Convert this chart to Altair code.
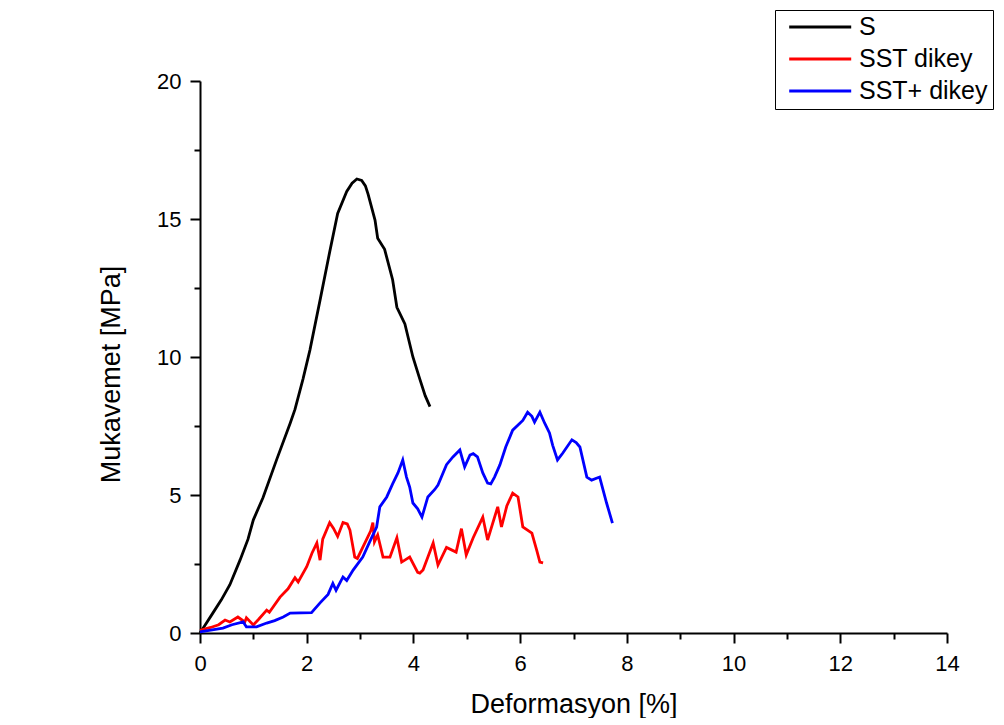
import altair as alt
import pandas as pd

series_names = ["S", "SST dikey", "SST+ dikey"]
series_colors = ["#000000", "#ff0000", "#0000ff"]

s_x = [0, 0.1, 0.24, 0.4, 0.56, 0.75, 0.9, 1.0, 1.18, 1.44, 1.69, 1.78, 1.93, 2.06, 2.25,
       2.43, 2.58, 2.75, 2.85, 2.94, 3.03, 3.1, 3.15, 3.28, 3.33, 3.46, 3.61, 3.69, 3.84,
       3.99, 4.12, 4.22, 4.31]
s_y = [0, 0.3, 0.72, 1.2, 1.75, 2.64, 3.4, 4.1, 4.9, 6.3, 7.6, 8.1, 9.2, 10.25, 12.06,
       13.8, 15.2, 16.0, 16.3, 16.45, 16.4, 16.2, 15.9, 14.96, 14.3, 13.9, 12.8, 11.8, 11.2,
       10.0, 9.2, 8.6, 8.2]

sst_x = [0, 0.2, 0.35, 0.47, 0.56, 0.71, 0.84, 0.87, 1.0, 1.1, 1.25, 1.3, 1.5, 1.65, 1.78,
         1.84, 2.0, 2.1, 2.19, 2.25, 2.3, 2.43, 2.5, 2.58, 2.68, 2.76, 2.81, 2.9, 2.95, 3.05,
         3.15, 3.2, 3.24, 3.27, 3.33, 3.43, 3.56, 3.69, 3.78, 3.93, 4.08, 4.12, 4.18, 4.37,
         4.46, 4.62, 4.8, 4.9, 4.99, 5.12, 5.3, 5.39, 5.58, 5.65, 5.75, 5.86, 5.96, 6.05,
         6.22, 6.31, 6.37, 6.43]
sst_y = [0.1, 0.2, 0.3, 0.47, 0.4, 0.58, 0.4, 0.55, 0.29, 0.5, 0.83, 0.75, 1.3, 1.6, 2.0,
         1.85, 2.4, 2.9, 3.26, 2.64, 3.4, 4.0, 3.8, 3.5, 4.0, 3.95, 3.73, 2.75, 2.7, 3.1,
         3.5, 3.7, 4.0, 3.3, 3.55, 2.75, 2.75, 3.45, 2.57, 2.75, 2.2, 2.17, 2.28, 3.26,
         2.46, 3.1, 2.93, 3.78, 2.83, 3.45, 4.2, 3.37, 4.57, 3.84, 4.6, 5.07, 4.93, 3.84,
         3.62, 3.0, 2.57, 2.54]

sstp_x = [0, 0.2, 0.43, 0.6, 0.81, 0.87, 1.06, 1.25, 1.4, 1.56, 1.69, 2.09, 2.25, 2.4,
          2.49, 2.55, 2.68, 2.75, 2.87, 3.05, 3.18, 3.31, 3.37, 3.5, 3.61, 3.71, 3.8, 3.87,
          3.93, 3.99, 4.08, 4.16, 4.27, 4.4, 4.46, 4.62, 4.74, 4.87, 4.96, 5.06, 5.12, 5.2,
          5.3, 5.39, 5.45, 5.52, 5.62, 5.73, 5.86, 6.05, 6.14, 6.22, 6.27, 6.37, 6.46, 6.55,
          6.61, 6.7, 6.8, 6.97, 7.05, 7.12, 7.25, 7.34, 7.49, 7.62, 7.73]
sstp_y = [0.04, 0.1, 0.18, 0.3, 0.4, 0.22, 0.22, 0.36, 0.45, 0.58, 0.72, 0.74, 1.09, 1.4,
          1.8, 1.55, 2.03, 1.9, 2.28, 2.75, 3.3, 3.84, 4.57, 4.93, 5.4, 5.8, 6.27, 5.65,
          5.29, 4.71, 4.5, 4.2, 4.93, 5.2, 5.36, 6.1, 6.38, 6.63, 6.02, 6.45, 6.5, 6.38,
          5.8, 5.43, 5.4, 5.65, 6.09, 6.74, 7.35, 7.7, 8.0, 7.85, 7.64, 8.0, 7.6, 7.25,
          6.8, 6.27, 6.52, 7.0, 6.9, 6.74, 5.65, 5.54, 5.65, 4.71, 3.98]

x_ticks = list(range(0, 15))
y_ticks = [0, 2.5, 5, 7.5, 10, 12.5, 15, 17.5, 20]

rows = []
for name, xs, ys in zip(series_names, [s_x, sst_x, sstp_x], [s_y, sst_y, sstp_y]):
    for i, (xv, yv) in enumerate(zip(xs, ys)):
        rows.append({"series": name, "x": xv, "y": yv, "i": i})
df = pd.DataFrame(rows)

FONT = "Liberation Sans"

x_axis = alt.Axis(
    values=x_ticks,
    title="Deformasyon [%]",
    labelExpr="datum.value % 2 === 0 ? datum.label : ''",
    tickSize={"condition": {"test": "datum.value % 2 === 0", "value": 10}, "value": 6},
    labelPadding=10,
    labelFontSize=22,
    titleFontSize=27,
    titleFontWeight="normal",
    titleX=373.5,
    titleY=79,
    titleBaseline="alphabetic",
    labelFlush=False,
    labelOverlap=False,
    grid=False,
)
y_axis = alt.Axis(
    values=y_ticks,
    title="Mukavemet [MPa]",
    labelExpr="datum.value % 5 === 0 ? datum.label : ''",
    tickSize={"condition": {"test": "datum.value % 5 === 0", "value": 10}, "value": 6},
    labelPadding=9,
    labelFontSize=22,
    titleFontSize=27,
    titleFontWeight="normal",
    titleX=-81,
    titleY=293,
    titleBaseline="alphabetic",
    labelFlush=False,
    labelOverlap=False,
    grid=False,
)

legend = alt.Legend(
    title=None,
    orient="none",
    legendX=575,
    legendY=-71,
    symbolType="M-0.56,0H11.84",
    symbolSize=100,
    symbolStrokeWidth=2.8,
    labelFontSize=25,
    labelFont=FONT,
    labelColor="black",
    labelOffset=54.5,
    labelLimit=400,
    rowPadding=6,
    padding=4.5,
    strokeColor="black",
    fillColor="white",
)

chart = alt.Chart(df).mark_line(strokeWidth=2.8).encode(
    x=alt.X("x:Q", scale=alt.Scale(domain=[0, 14], nice=False, zero=False), axis=x_axis),
    y=alt.Y("y:Q", scale=alt.Scale(domain=[0, 20], nice=False, zero=False), axis=y_axis),
    color=alt.Color("series:N", scale=alt.Scale(domain=series_names, range=series_colors), legend=legend),
    order="i:Q",
).properties(
    width=747,
    height=552,
    padding={"left": 192, "top": 73, "right": 49, "bottom": 85},
    autosize=alt.AutoSizeParams(type="none"),
    background="white",
).configure_view(
    stroke=None
).configure_axis(
    labelFont=FONT,
    titleFont=FONT,
    labelColor="black",
    titleColor="black",
    tickColor="black",
    domainColor="black",
    domainWidth=2,
    tickWidth=2,
)

chart.save("out.html", embed_options={"renderer": "svg", "actions": False})
